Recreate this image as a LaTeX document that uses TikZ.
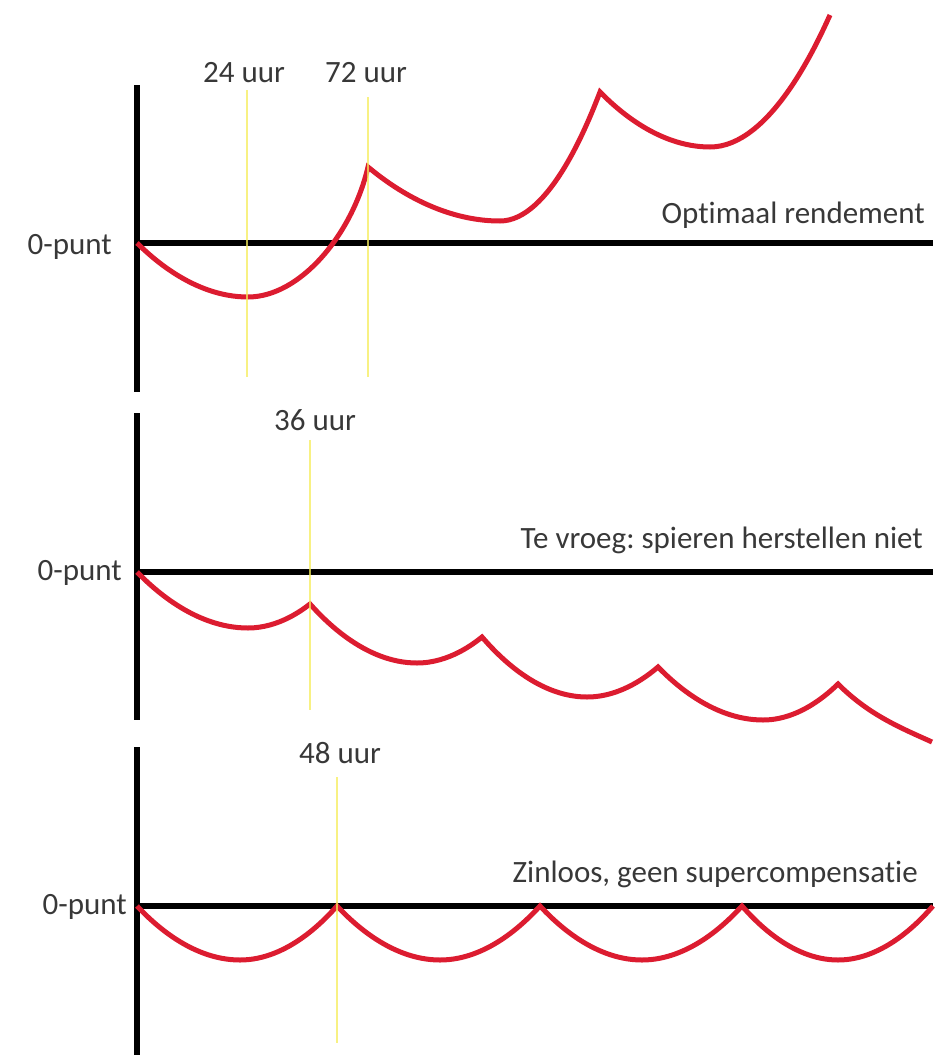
\documentclass[tikz,border=0pt]{standalone}
\usepackage{fontspec}
\setmainfont{Carlito}[Ligatures={NoCommon,NoContextual}]
\frenchspacing
\definecolor{curvered}{RGB}{220,28,48}
\definecolor{markyellow}{RGB}{245,236,90}
\begin{document}
\begin{tikzpicture}[x=1pt,y=-1pt,
  axis/.style={line width=6pt, black},
  curve/.style={line width=5pt, curvered},
  marker/.style={line width=2.5pt, markyellow, opacity=0.75},
  lbl/.style={font=\fontsize{31}{36}\selectfont\frenchspacing, text=black!78, inner sep=0pt}]
\useasboundingbox (0,0) rectangle (939,1057);

% ---------- panel 1 ----------
\coordinate (v1t) at (137,85);
\coordinate (v1b) at (137,392);
\coordinate (o1) at (137,243);
\coordinate (h1e) at (933,243);
\draw[axis] (v1t) -- (v1b);
\draw[axis] (o1) -- (h1e);
\draw[curve] (o1) parabola bend (248,297) (248,297)
  .. controls (300,297) and (352,235) .. (368,167)
  parabola bend (500,221) (600,92)
  parabola bend (710,147) (830,15);
\node[lbl, anchor=base] (l24) at (244,82) {24 uur};
\node[lbl, anchor=base] (l72) at (366,82) {72 uur};
\node[lbl, anchor=base east] (z1) at (112,254) {0-punt};
\node[lbl, anchor=base east] (t1) at (925,223) {Opt\kern0pt imaal rendement};
\draw[marker] (247,90) -- (247,377);
\draw[marker] (368,97) -- (368,377);

% ---------- panel 2 ----------
\coordinate (v2t) at (137,413);
\coordinate (v2b) at (137,720);
\coordinate (o2) at (137,572);
\coordinate (h2e) at (933,572);
\draw[axis] (v2t) -- (v2b);
\draw[axis] (o2) -- (h2e);
\draw[curve] (o2) parabola bend (248,628) (310,604)
  parabola bend (417,663) (482,637)
  parabola bend (587,697) (658,667)
  parabola bend (763,720) (838,684)
  .. controls (869,715) and (901,728) .. (932,742);
\node[lbl, anchor=base] (l36) at (315,430) {36 uur};
\node[lbl, anchor=base east] (z2) at (122,580) {0-punt};
\node[lbl, anchor=base east] (t2) at (923,548) {Te vroeg: spieren herstellen niet};
\draw[marker] (310,440) -- (310,710);

% ---------- panel 3 ----------
\coordinate (v3t) at (137,747);
\coordinate (v3b) at (137,1055);
\coordinate (o3) at (137,906);
\coordinate (h3e) at (933,906);
\draw[axis] (v3t) -- (v3b);
\draw[axis] (o3) -- (h3e);
\draw[curve] (o3) parabola bend (240,960) (337,906)
  parabola bend (440,960) (540,906)
  parabola bend (642,960) (742,906)
  parabola bend (838,960) (933,906);
\node[lbl, anchor=base] (l48) at (340,763) {48 uur};
\node[lbl, anchor=base east] (z3) at (127,914) {0-punt};
\node[lbl, anchor=base east] (t3) at (918,882) {Zinloos, geen supercompensat\kern0pt ie};
\draw[marker] (337,777) -- (337,1043);
\end{tikzpicture}
\end{document}
